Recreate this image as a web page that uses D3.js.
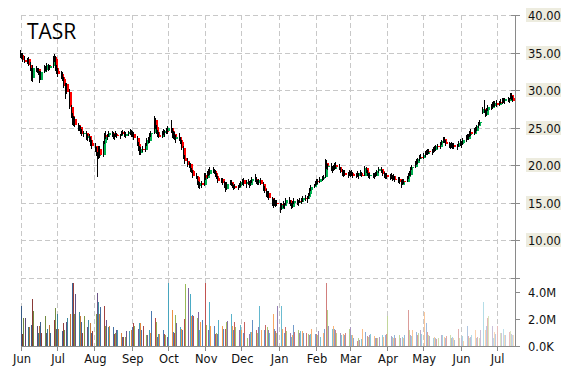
<!DOCTYPE html>
<html>
<head>
<meta charset="utf-8">
<script src="https://cdn.jsdelivr.net/npm/d3@7"></script>
<style>
  body { margin: 0; background: #fff; }
  svg { display: block; font-family: "DejaVu Sans", Verdana, sans-serif; }
</style>
</head>
<body>
<svg id="chart" width="570" height="370"></svg>
<script>
// ---- data ----
const symbol = 'TASR';
const firstDay = '2004-06-01';
const lastDay = '2005-07-15';
const priceTicks = [10, 15, 20, 25, 30, 35, 40];
const volumeTicks = [0, 2e6, 4e6];
const volumeTickLabels = ['0.0K', '2.0M', '4.0M'];

// one row per trading day: [open, high, low, close]
const candles = [
  // Jun
  [34.9,35.3,34.3,34.7],[34.7,35.0,34.2,34.4],[34.5,34.9,33.8,34.0],[34.0,34.5,33.6,33.8],[33.8,34.3,33.5,34.1],
  [34.1,34.4,33.2,33.4],[33.4,33.7,32.6,32.8],[32.8,33.0,31.2,31.6],[31.6,33.3,31.1,32.9],[32.9,33.2,32.4,32.6],
  [32.6,33.0,32.3,32.8],[32.8,33.0,32.0,32.2],[32.2,32.5,31.0,31.4],[31.4,32.6,31.3,32.4],[32.4,33.3,32.3,33.0],
  [33.0,33.2,32.5,32.7],[32.7,33.6,32.4,33.3],[33.3,33.5,32.6,32.9],[32.9,33.4,32.7,33.2],[33.2,34.6,33.0,34.4],
  [34.4,34.8,33.7,34.1],[34.1,34.5,32.6,32.9],
  // Jul
  [32.9,33.4,32.2,32.5],[32.5,32.9,31.8,32.1],[32.1,32.6,31.5,31.8],[31.8,32.4,31.2,31.5],[31.5,31.7,30.3,30.5],
  [30.5,31.0,28.8,30.8],[30.8,31.0,29.5,29.8],[29.8,30.2,27.5,27.8],[27.8,28.0,26.3,26.6],[26.6,26.9,25.3,25.6],
  [25.6,26.5,25.2,26.2],[26.2,26.4,25.1,25.4],[25.4,25.6,24.6,24.9],[24.9,25.3,24.5,25.1],[25.1,25.2,24.2,24.4],
  [24.4,24.8,23.9,24.1],[24.1,24.6,23.7,24.3],[24.3,24.5,23.4,23.6],[23.6,24.1,23.2,23.9],[23.9,24.2,23.1,23.3],
  [23.3,23.7,22.6,22.9],[22.9,23.3,22.2,22.6],
  // Aug
  [22.6,22.9,21.8,22.0],[22.0,22.4,21.2,21.5],[21.5,21.8,18.4,21.2],[21.2,22.5,20.8,22.2],[22.2,22.6,20.9,21.3],
  [21.3,23.2,21.1,23.0],[23.0,24.3,22.8,24.0],[24.0,24.6,23.5,23.8],[23.8,24.2,23.3,24.0],[24.0,24.5,23.7,24.3],
  [24.3,24.6,23.8,24.0],[24.0,24.4,23.5,23.7],[23.7,24.2,23.4,24.1],[24.1,24.5,23.8,24.0],[24.0,24.3,23.6,23.9],
  [23.9,24.2,23.5,24.1],[24.1,24.6,23.9,24.4],[24.4,24.7,24.0,24.2],[24.2,24.5,23.7,23.9],[23.9,24.4,23.6,24.2],
  [24.2,24.6,23.9,24.4],[24.4,24.8,24.0,24.3],
  // Sep
  [24.3,24.7,23.8,24.1],[24.1,24.5,23.7,24.2],[24.2,24.4,23.4,23.6],[23.6,23.9,22.6,22.8],[22.8,23.1,21.9,22.1],
  [22.1,22.5,21.3,21.6],[21.6,22.4,21.4,22.2],[22.2,22.6,21.8,22.0],[22.0,23.0,21.8,22.8],[22.8,23.6,22.6,23.4],
  [23.4,23.8,23.0,23.2],[23.2,24.3,23.0,24.1],[24.1,24.6,23.8,24.3],[24.3,26.6,24.2,26.0],[26.0,26.3,24.8,25.1],
  [25.1,25.3,24.1,24.4],[24.4,24.7,23.8,24.0],[24.0,24.4,23.6,23.8],[23.8,24.6,23.6,24.4],[24.4,24.8,24.0,24.3],
  [24.3,24.7,23.8,24.6],[24.6,25.0,24.2,24.5],
  // Oct
  [24.5,25.2,24.2,24.9],[24.9,26.0,24.3,24.6],[24.6,24.9,23.6,23.9],[23.9,24.5,23.5,24.2],[24.2,24.4,23.3,23.5],
  [23.5,24.0,23.0,23.8],[23.8,24.3,23.2,23.4],[23.4,23.7,22.8,23.1],[23.1,23.3,22.0,22.3],[22.3,22.6,20.8,21.0],
  [21.0,21.4,20.2,20.5],[20.5,20.9,19.8,20.0],[20.0,20.4,19.6,20.2],[20.2,20.3,19.1,19.4],[19.4,19.6,18.9,19.2],
  [19.2,19.4,18.3,18.6],[18.6,19.0,18.2,18.4],[18.4,18.6,17.3,17.6],[17.6,17.9,16.9,17.2],[17.2,17.8,16.8,17.6],
  [17.6,17.9,17.0,17.3],
  // Nov
  [17.3,18.9,17.2,18.7],[18.7,19.0,18.0,18.3],[18.3,19.2,18.1,19.0],[19.0,19.5,18.6,18.8],[18.8,19.7,18.7,19.4],
  [19.4,19.7,19.0,19.2],[19.2,19.5,18.8,19.0],[19.0,19.3,18.4,18.6],[18.6,18.9,18.1,18.3],[18.3,18.6,17.6,17.9],
  [17.9,18.3,17.6,18.1],[18.1,18.3,17.4,17.6],[17.6,17.9,17.0,17.3],[17.3,17.7,16.4,16.8],[16.8,17.8,16.7,17.5],
  [17.5,18.0,17.3,17.8],[17.8,18.0,17.2,17.4],[17.4,17.6,16.9,17.1],[17.1,17.4,16.7,17.2],[17.2,17.5,16.8,17.0],
  [17.0,17.4,16.7,17.2],[17.2,17.6,16.9,17.4],
  // Dec
  [17.4,17.9,17.1,17.7],[17.7,18.2,17.4,18.0],[18.0,18.3,17.2,17.5],[17.5,18.0,17.0,17.8],[17.8,18.1,17.3,17.6],
  [17.6,17.9,17.0,17.3],[17.3,18.0,17.2,17.9],[17.9,18.4,17.6,18.1],[18.1,18.8,17.8,18.2],[18.2,18.4,17.5,17.7],
  [17.7,18.0,17.3,17.6],[17.6,18.2,17.4,18.0],[18.0,18.3,17.3,17.5],[17.5,17.7,16.6,16.9],[16.9,17.2,16.3,16.5],
  [16.5,16.8,15.8,16.1],[16.1,16.6,15.6,16.3],[16.3,16.5,15.3,15.6],[15.6,15.8,14.6,14.9],[14.9,15.5,14.3,15.2],
  [15.2,15.6,14.5,14.8],[14.8,15.3,14.4,15.0],[15.0,15.4,14.6,14.8],
  // Jan
  [14.8,15.0,13.6,14.2],[14.2,14.9,14.0,14.7],[14.7,15.2,14.3,14.5],[14.5,15.0,14.2,14.9],[14.9,15.6,14.7,15.3],
  [15.3,15.7,14.8,15.0],[15.0,15.3,14.5,14.7],[14.7,15.0,14.2,14.4],[14.4,15.2,14.3,15.0],[15.0,15.6,14.8,15.2],
  [15.2,15.5,14.7,14.9],[14.9,15.4,14.6,15.2],[15.2,15.6,14.9,15.1],[15.1,15.6,14.8,15.4],[15.4,15.9,15.1,15.6],
  [15.6,16.0,15.2,15.5],[15.5,15.9,15.0,15.7],[15.7,16.3,15.5,16.1],[16.1,16.9,15.9,16.7],[16.7,17.3,16.5,17.1],
  [17.1,17.5,16.9,17.4],
  // Feb
  [17.4,17.9,17.2,17.7],[17.7,18.1,17.4,17.9],[17.9,18.2,17.5,17.8],[17.8,18.4,17.6,18.2],[18.2,18.6,17.9,18.3],
  [18.3,18.7,18.0,18.4],[18.4,20.8,18.3,20.3],[20.3,20.7,19.5,19.7],[19.7,20.2,19.3,19.9],[19.9,20.3,19.2,19.4],
  [19.4,19.9,19.0,19.7],[19.7,20.0,19.2,19.5],[19.5,20.3,19.3,20.0],[20.0,20.4,19.5,19.8],[19.8,20.2,19.3,19.5],
  [19.5,19.8,18.9,19.1],[19.1,19.5,18.5,18.8],[18.8,19.3,18.4,19.0],[19.0,19.4,18.5,18.7],[18.7,19.1,18.3,18.9],
  // Mar
  [18.9,19.3,18.5,18.7],[18.7,19.2,18.4,19.0],[19.0,19.4,18.6,18.8],[18.8,19.1,18.3,18.5],[18.5,19.0,18.3,18.8],
  [18.8,19.2,18.4,18.6],[18.6,19.0,18.2,18.9],[18.9,19.3,18.5,18.7],[18.7,19.1,18.4,18.6],[18.6,19.9,18.5,19.6],
  [19.6,19.8,18.9,19.1],[19.1,19.3,18.5,18.7],[18.7,19.0,18.3,18.5],[18.5,18.9,18.2,18.7],[18.7,19.0,18.3,18.5],
  [18.5,18.9,18.2,18.8],[18.8,19.1,18.4,18.6],[18.6,19.3,18.5,19.2],[19.2,19.7,18.9,19.5],[19.5,19.8,19.0,19.2],
  [19.2,19.4,18.6,18.8],[18.8,19.1,18.3,18.5],[18.5,18.9,18.2,18.7],
  // Apr
  [18.7,19.0,18.2,18.4],[18.4,18.8,18.0,18.6],[18.6,18.9,18.1,18.3],[18.3,18.7,17.9,18.5],[18.5,18.8,18.0,18.2],
  [18.2,18.5,17.8,18.0],[18.0,18.4,17.6,18.2],[18.2,18.4,17.5,17.7],[17.7,18.0,17.0,17.4],[17.4,18.1,17.3,17.9],
  [17.9,18.2,17.5,17.8],[17.8,18.6,17.7,18.4],[18.4,19.0,18.2,18.9],[18.9,19.2,18.5,18.7],[18.7,19.8,18.6,19.6],
  [19.6,20.0,19.3,19.8],[19.8,20.6,19.6,20.4],[20.4,20.8,20.0,20.3],[20.3,21.0,20.1,20.8],[20.8,21.4,20.5,21.1],
  [21.1,21.5,20.8,21.0],
  // May
  [21.0,21.6,20.8,21.4],[21.4,21.9,21.1,21.7],[21.7,22.0,21.3,21.5],[21.5,22.1,21.4,21.9],[21.9,22.2,21.5,21.7],
  [21.7,22.1,21.3,21.9],[21.9,22.4,21.6,22.2],[22.2,22.5,21.8,22.0],[22.0,22.7,21.9,22.5],[22.5,22.8,22.1,22.4],
  [22.4,23.1,22.2,22.9],[22.9,23.4,22.7,23.2],[23.2,23.7,22.9,23.5],[23.5,23.8,22.9,23.1],[23.1,23.4,22.6,22.8],
  [22.8,23.1,22.3,22.6],[22.6,23.0,22.2,22.9],[22.9,23.1,22.3,22.5],[22.5,22.9,22.1,22.7],[22.7,23.0,22.2,22.4],
  [22.4,22.8,22.0,22.6],[22.6,23.2,22.4,23.0],
  // Jun
  [23.0,23.5,22.6,22.8],[22.8,23.2,22.3,23.0],[23.0,23.6,22.7,23.4],[23.4,24.0,23.1,23.8],[23.8,24.1,23.3,23.5],
  [23.5,24.2,23.4,24.0],[24.0,24.6,23.8,24.4],[24.4,24.8,23.9,24.2],[24.2,25.0,24.0,24.8],[24.8,25.1,24.3,24.6],
  [24.6,25.4,24.5,25.2],[25.2,25.8,25.0,25.6],[25.6,26.0,25.3,25.8],[26.9,27.8,26.8,27.5],[27.5,28.7,27.0,27.2],
  [27.2,27.4,26.4,26.7],[26.7,27.6,26.5,27.4],[27.4,28.0,27.2,27.8],[27.8,28.2,27.4,27.6],[27.6,28.4,27.5,28.1],
  [28.1,28.6,27.7,27.9],[27.9,28.5,27.8,28.3],
  // Jul
  [28.3,28.7,27.8,28.0],[28.0,28.6,27.9,28.4],[28.4,28.8,28.1,28.3],[28.3,28.9,28.2,28.7],[28.7,29.0,28.3,28.5],
  [28.5,28.9,28.2,28.8],[28.8,29.1,28.4,28.6],[28.6,29.0,28.3,28.9],[28.9,29.6,28.8,29.4],[29.4,29.6,28.7,28.9],
  [28.9,29.2,28.4,28.6]
];

// daily volume, millions of shares
const volumes = [
  3.0,0.9,2.1,2.1,1.4,1.4,1.6,3.5,2.6,1.5,1.0,1.5,1.8,1.0,2.2,1.0,1.3,1.55,1.0,1.9,2.8,1.25,
  2.4,1.3,1.1,1.7,1.2,1.8,2.1,2.4,4.7,4.7,2.4,3.85,2.5,2.2,1.8,1.0,2.2,1.4,1.9,1.7,1.0,1.1,
  2.4,3.95,3.3,2.4,2.9,3.0,1.5,1.9,1.4,1.5,1.4,0.9,1.0,1.2,1.2,1.0,0.7,0.7,0.7,1.1,1.1,1.2,
  1.4,1.7,1.5,1.3,1.7,1.7,1.2,1.5,0.8,0.8,1.2,1.0,2.6,2.1,1.8,0.7,0.9,0.9,1.2,0.9,0.8,0.7,
  4.7,2.65,1.05,1.0,2.3,1.7,1.4,1.3,1.2,2.0,4.6,4.3,3.85,2.2,2.3,2.2,2.1,2.5,1.2,1.8,1.9,
  4.7,1.6,1.2,3.3,1.5,1.5,0.9,1.0,0.9,1.9,1.5,1.3,1.3,1.8,1.85,2.4,1.5,1.2,1.8,1.45,1.2,1.6,
  1.2,1.0,1.8,0.6,0.9,1.05,1.05,1.9,1.2,1.0,1.4,3.0,1.2,1.2,1.6,1.4,1.2,1.0,2.4,1.3,1.1,1.0,3.0,
  3.0,1.25,1.0,1.4,1.1,0.95,0.7,0.8,1.6,1.05,1.2,1.0,1.1,1.1,1.0,1.0,0.9,0.8,0.9,1.3,0.9,
  0.9,0.8,1.1,0.7,1.0,1.3,4.7,2.65,1.5,1.3,1.5,1.3,1.2,1.0,1.0,0.8,0.9,0.8,1.0,1.3,
  1.4,0.8,0.8,0.6,0.4,0.6,0.45,0.5,1.3,1.05,0.75,0.7,0.8,0.9,0.75,0.6,0.6,0.6,0.7,0.8,0.7,0.8,0.9,
  2.2,0.75,0.7,0.6,0.8,0.6,0.8,0.6,0.7,0.6,0.8,2.65,1.2,0.8,0.75,1.2,1.05,0.8,1.0,1.2,0.9,
  2.55,1.7,1.05,0.8,0.75,0.6,0.7,0.6,0.5,0.6,0.8,0.85,0.7,0.6,0.75,0.85,0.6,0.7,0.6,0.45,1.25,0.6,
  0.6,0.75,0.4,1.5,0.75,0.6,0.7,0.85,1.2,0.6,0.7,0.6,1.2,3.3,1.2,1.5,2.05,2.2,1.5,0.6,1.05,0.9,
  1.5,0.95,0.95,1.25,0.8,0.85,1.05,1.1,0.9,0.8,0.85
];

const volumePalette = ['#4f81bd', '#c0504d', '#9bbb59', '#8064a2', '#4bacc6', '#f79646'];

// ---- layout ----
const svg = d3.select('#chart');
const plot = { left: 21, right: 515, top: 15, split: 277.5, bottom: 346 };

const parse = d3.timeParse('%Y-%m-%d');
const start = parse(firstDay);
const end = parse(lastDay);

// weekdays between the first and last day
const days = d3.timeDay.range(start, d3.timeDay.offset(end, 1))
    .filter(d => d.getDay() !== 0 && d.getDay() !== 6);
const n = Math.min(days.length, candles.length, volumes.length);

const bars = d3.range(n).map(i => ({
    date: days[i],
    open: candles[i][0], high: candles[i][1], low: candles[i][2], close: candles[i][3],
    volume: volumes[i] * 1e6
}));

const x = d3.scaleTime()
    .domain([start, d3.timeHour.offset(end, 10)])
    .range([plot.left, plot.right - 1]);
const y = d3.scaleLinear().domain([5, 40]).range([plot.split, plot.top]);
const yVol = d3.scaleLinear().domain([0, 5.1e6]).range([plot.bottom, plot.split]);

const months = d3.timeMonth.range(start, d3.timeDay.offset(end, 1));

// ---- grid ----
const grid = svg.append('g')
    .attr('stroke', '#c8c8c8')
    .attr('stroke-dasharray', '5,3')
    .attr('shape-rendering', 'crispEdges');

grid.selectAll('.hgrid')
    .data(priceTicks.concat([5]))
    .join('line')
    .attr('x1', plot.left).attr('x2', plot.right)
    .attr('y1', d => Math.round(y(d)) + 0.5)
    .attr('y2', d => Math.round(y(d)) + 0.5);

grid.selectAll('.vgrid')
    .data(months)
    .join('line')
    .attr('x1', d => Math.round(x(d)) + 0.5)
    .attr('x2', d => Math.round(x(d)) + 0.5)
    .attr('y1', plot.top)
    .attr('y2', plot.bottom);

// ---- volume bars ----
function volumeColor(i) {
    const base = volumePalette[i % volumePalette.length];
    const t = i / (n - 1);
    if (t < 0.35) return d3.interpolateRgb(base, '#000')((0.35 - t) / 0.35 * 0.3);
    return d3.interpolateRgb(base, '#fff')((t - 0.35) / 0.65 * 0.65);
}

svg.append('g')
    .attr('shape-rendering', 'crispEdges')
    .selectAll('rect')
    .data(bars)
    .join('rect')
    .attr('x', d => Math.round(x(d.date)))
    .attr('width', 1)
    .attr('y', d => yVol(d.volume))
    .attr('height', d => plot.bottom - yVol(d.volume))
    .attr('fill', (d, i) => volumeColor(i));

// ---- candles ----
const candleG = svg.append('g').attr('shape-rendering', 'crispEdges');

candleG.selectAll('rect')
    .data(bars)
    .join('rect')
    .attr('x', d => Math.round(x(d.date)))
    .attr('width', 2)
    .attr('y', d => y(Math.max(d.open, d.close)))
    .attr('height', d => Math.max(1, Math.abs(y(d.open) - y(d.close))))
    .attr('fill', d => d.close >= d.open ? '#00b050' : '#ff0000');

candleG.selectAll('line')
    .data(bars)
    .join('line')
    .attr('x1', d => Math.round(x(d.date)) - 0.5)
    .attr('x2', d => Math.round(x(d.date)) - 0.5)
    .attr('y1', d => y(d.high))
    .attr('y2', d => y(d.low))
    .attr('stroke', '#000')
    .attr('stroke-width', 1);

// ---- axes ----
const axisG = svg.append('g')
    .attr('stroke', '#8a8a8a')
    .attr('shape-rendering', 'crispEdges');

axisG.append('line')
    .attr('x1', plot.right + 0.5).attr('x2', plot.right + 0.5)
    .attr('y1', plot.top).attr('y2', plot.bottom + 1);
axisG.append('line')
    .attr('x1', plot.left).attr('x2', plot.right + 1)
    .attr('y1', plot.bottom + 0.5).attr('y2', plot.bottom + 0.5);

axisG.selectAll('.ptick')
    .data(priceTicks.concat([5]))
    .join('line')
    .attr('x1', plot.right - 4).attr('x2', plot.right + 5)
    .attr('y1', d => Math.round(y(d)) + 0.5)
    .attr('y2', d => Math.round(y(d)) + 0.5);

axisG.selectAll('.vtick')
    .data(volumeTicks)
    .join('line')
    .attr('x1', plot.right).attr('x2', plot.right + 5)
    .attr('y1', d => Math.round(yVol(d)) + 0.5)
    .attr('y2', d => Math.round(yVol(d)) + 0.5);

axisG.selectAll('.mtick')
    .data(months)
    .join('line')
    .attr('x1', d => Math.round(x(d)) + 0.5)
    .attr('x2', d => Math.round(x(d)) + 0.5)
    .attr('y1', plot.bottom)
    .attr('y2', plot.bottom + 5);

// price labels with beige boxes
const priceLabels = svg.append('g')
    .selectAll('g')
    .data(priceTicks)
    .join('g')
    .attr('transform', d => `translate(527,${Math.round(y(d))})`);

priceLabels.append('rect')
    .attr('x', -1).attr('y', -7)
    .attr('width', 35).attr('height', 14)
    .attr('fill', '#edecdf');

priceLabels.append('text')
    .attr('x', 1).attr('y', 4.5)
    .attr('font-size', '11.5px')
    .attr('fill', '#111')
    .text(d => d3.format('.2f')(d));

svg.append('g')
    .selectAll('text')
    .data(volumeTicks)
    .join('text')
    .attr('x', 528)
    .attr('y', d => Math.round(yVol(d)) + 4.5)
    .attr('font-size', '11.5px')
    .attr('fill', '#111')
    .text((d, i) => volumeTickLabels[i]);

svg.append('g')
    .selectAll('text')
    .data(months)
    .join('text')
    .attr('x', d => x(d) + 1)
    .attr('y', 363)
    .attr('text-anchor', 'middle')
    .attr('font-size', '11.5px')
    .attr('fill', '#111')
    .text(d => d3.timeFormat('%b')(d));

// ticker
svg.append('text')
    .attr('x', 27)
    .attr('y', 39)
    .attr('font-family', '"Open Sans", sans-serif')
    .attr('font-size', '21px')
    .attr('fill', '#000')
    .text(symbol);
</script>
</body>
</html>
